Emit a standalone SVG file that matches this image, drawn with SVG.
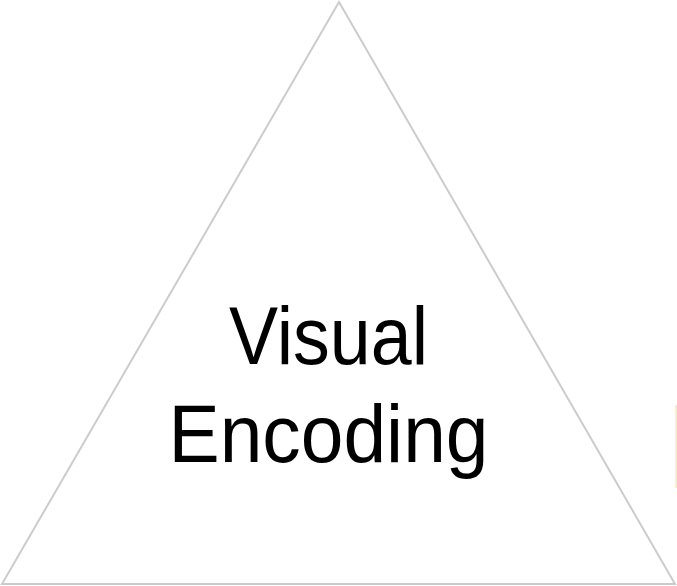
<svg xmlns="http://www.w3.org/2000/svg" width="677" height="586" viewBox="0 0 677 586">
  <style>
    .tri { fill: #ffffff; stroke: #cccccc; stroke-width: 2; stroke-linejoin: miter; }
    .label { font-family: "Liberation Sans", Arial, sans-serif; font-size: 81px; fill: #000000; text-anchor: middle; }
    .edge { stroke: #fbe8b4; stroke-width: 1.5; fill: none; }
  </style>
  <rect width="677" height="586" fill="#ffffff"/>
  <g id="visual-encoding">
    <polygon class="tri" points="339,2 2,584 675,584"/>
    <text class="label" x="328.5" y="364" textLength="199" lengthAdjust="spacingAndGlyphs">Visual</text>
    <text class="label" x="328.5" y="462" textLength="320" lengthAdjust="spacingAndGlyphs">Encoding</text>
  </g>
  <g id="connectors">
    <line class="edge" x1="676.2" y1="405" x2="676.2" y2="488"/>
  </g>
</svg>
